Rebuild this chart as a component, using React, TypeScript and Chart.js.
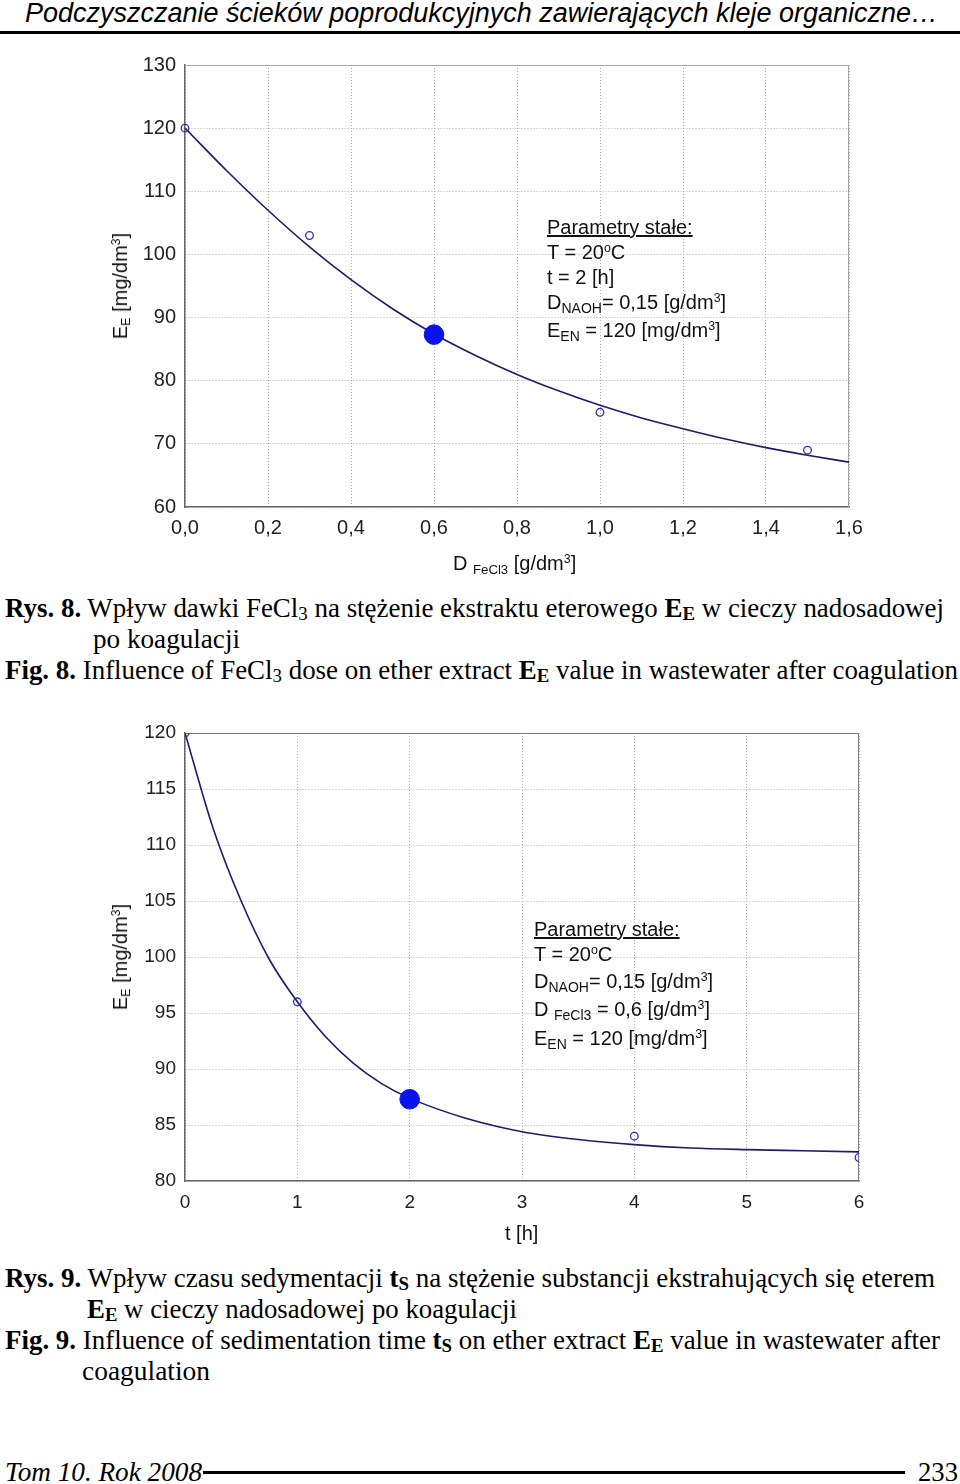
import React, { useEffect, useLayoutEffect, useRef } from "react";
import { Chart, registerables } from "chart.js";

Chart.register(...registerables);

// ---------- Fig. 8 data (FeCl3 dose) ----------
const fig8CurveDose = [0, 0.1, 0.2, 0.3, 0.4, 0.5, 0.6, 0.7, 0.8, 0.9, 1.0, 1.1, 1.2, 1.3, 1.4, 1.5, 1.6];
const fig8CurveEE = [120, 113.3, 107, 101.2, 96, 91.4, 87.4, 84, 81, 78.4, 76.1, 74.1, 72.4, 70.8, 69.4, 68.2, 67.1];
const fig8MeasDose = [0, 0.3, 1.0, 1.5];
const fig8MeasEE = [120, 103, 75, 69];
const fig8ChosenDose = [0.6];
const fig8ChosenEE = [87.3];
const fig8XTicks = [0, 0.2, 0.4, 0.6, 0.8, 1.0, 1.2, 1.4, 1.6];
const fig8XTickLabels = ["0,0", "0,2", "0,4", "0,6", "0,8", "1,0", "1,2", "1,4", "1,6"];
const fig8YTicks = [60, 70, 80, 90, 100, 110, 120, 130];

// ---------- Fig. 9 data (sedimentation time) ----------
const fig9CurveTime = [0, 0.25, 0.5, 0.75, 1, 1.25, 1.5, 1.75, 2, 2.5, 3, 3.5, 4, 4.5, 5, 5.5, 6];
const fig9CurveEE = [120, 111.5, 105, 99.8, 96, 92.9, 90.5, 88.7, 87.4, 85.6, 84.4, 83.7, 83.25, 82.95, 82.8, 82.7, 82.6];
const fig9MeasTime = [0, 1, 4, 6];
const fig9MeasEE = [120, 96, 84, 82.1];
const fig9ChosenTime = [2];
const fig9ChosenEE = [87.3];
const fig9XTicks = [0, 1, 2, 3, 4, 5, 6];
const fig9XTickLabels = ["0", "1", "2", "3", "4", "5", "6"];
const fig9YTicks = [80, 85, 90, 95, 100, 105, 110, 115, 120];

const SANS = "'Liberation Sans', Arial, Helvetica, sans-serif";
const SERIF = "'Liberation Serif', 'Times New Roman', serif";

const framePlugin = {
  id: "frame",
  beforeDatasetsDraw(chart: any, _args: any, opts: any) {
    const { ctx, chartArea: a } = chart;
    ctx.save();
    ctx.strokeStyle = opts.color || "#999";
    ctx.lineWidth = 1;
    const top = Math.round(a.top) + 0.5;
    const right = Math.round(a.right) - 0.5;
    ctx.beginPath();
    ctx.moveTo(a.left, top);
    ctx.lineTo(right, top);
    ctx.lineTo(right, a.bottom);
    ctx.stroke();
    ctx.restore();
  },
};

type P = {
  curveX: number[]; curveY: number[];
  measX: number[]; measY: number[];
  chosenX: number[]; chosenY: number[];
  xTicks: number[]; xLabels: string[]; yTicks: number[];
  padTop: number; padRight: number; xAxisH: number; yAxisW: number;
  clipPoints: boolean; frameColor: string; yFont: number; xFont: number; xPad: number;
};

function pts(xs: number[], ys: number[]) {
  return xs.map((x, i) => ({ x, y: ys[i] }));
}

function buildConfig(p: P): any {
  return {
    type: "scatter",
    data: {
      datasets: [
        {
          data: pts(p.chosenX, p.chosenY),
          pointRadius: 9.8,
          pointBackgroundColor: "#0a12ee",
          pointBorderColor: "#0a12ee",
          pointBorderWidth: 1,
          showLine: false,
          clip: false,
        },
        {
          data: pts(p.measX, p.measY),
          pointRadius: 3.8,
          pointBackgroundColor: "rgba(255,255,255,0)",
          pointBorderColor: "#2f2fa8",
          pointBorderWidth: 1.3,
          showLine: false,
          clip: p.clipPoints ? undefined : false,
        },
        {
          data: pts(p.curveX, p.curveY),
          showLine: true,
          pointRadius: 0,
          borderColor: "#1c1c6b",
          borderWidth: 1.6,
          cubicInterpolationMode: "monotone",
          fill: false,
        },
      ],
    },
    options: {
      responsive: false,
      animation: false,
      events: [],
      layout: { padding: { top: p.padTop, right: p.padRight, left: 0, bottom: 0 } },
      plugins: {
        legend: { display: false },
        tooltip: { enabled: false },
        frame: { color: p.frameColor },
      },
      scales: {
        x: {
          type: "linear",
          min: p.xTicks[0],
          max: p.xTicks[p.xTicks.length - 1],
          afterBuildTicks: (s: any) => { s.ticks = p.xTicks.map((v) => ({ value: v })); },
          afterFit: (s: any) => { s.height = p.xAxisH; },
          grid: { color: "#b0b0b0", lineWidth: 1, drawTicks: false },
          border: { display: true, color: "#666", width: 1.5, dash: [1, 2] },
          ticks: {
            padding: p.xPad,
            color: "#222",
            font: { family: SANS, size: p.xFont },
            maxRotation: 0,
            autoSkip: false,
            callback: (_v: any, i: number) => p.xLabels[i],
          },
        },
        y: {
          type: "linear",
          min: p.yTicks[0],
          max: p.yTicks[p.yTicks.length - 1],
          afterBuildTicks: (s: any) => { s.ticks = p.yTicks.map((v) => ({ value: v })); },
          afterFit: (s: any) => { s.width = p.yAxisW; },
          grid: { color: "#b0b0b0", lineWidth: 1, drawTicks: false },
          border: { display: true, color: "#666", width: 1.5, dash: [1, 2] },
          ticks: {
            padding: 9,
            color: "#222",
            font: { family: SANS, size: p.yFont },
            autoSkip: false,
            callback: (v: any) => String(v),
          },
        },
      },
    },
    plugins: [framePlugin],
  };
}

function ChartCanvas({ left, top, width, height, params }: { left: number; top: number; width: number; height: number; params: P }) {
  const ref = useRef<HTMLCanvasElement>(null);
  useEffect(() => {
    const chart = new Chart(ref.current as HTMLCanvasElement, buildConfig(params));
    return () => chart.destroy();
  }, []);
  return (
    <canvas
      ref={ref}
      width={width}
      height={height}
      style={{ position: "absolute", left, top, width, height, display: "block" }}
    />
  );
}

const Sub = ({ children, size = "0.62em", drop = "0.28em" }: any) => (
  <span style={{ fontSize: size, position: "relative", top: drop, lineHeight: 0 }}>{children}</span>
);
const Sup = ({ children }: any) => (
  <span style={{ fontSize: "0.62em", position: "relative", top: "-0.55em", lineHeight: 0 }}>{children}</span>
);

function Line({ x, base, w, size, family, italic, children, color = "#000" }: any) {
  const ref = useRef<HTMLDivElement>(null);
  useLayoutEffect(() => {
    const el = ref.current;
    if (!el || !w) return;
    el.style.transform = "none";
    const nat = el.getBoundingClientRect().width;
    if (nat > 0) el.style.transform = `scaleX(${w / nat})`;
  }, [w]);
  const asc = family === SERIF ? 0.8375 : 0.8465;
  return (
    <div
      ref={ref}
      style={{
        position: "absolute",
        left: x,
        top: base - asc * size,
        fontSize: size,
        lineHeight: 1,
        fontFamily: family,
        fontStyle: italic ? "italic" : "normal",
        whiteSpace: "nowrap",
        transformOrigin: "0 0",
        color,
      }}
    >
      {children}
    </div>
  );
}

function YTitle({ cx, cy }: { cx: number; cy: number }) {
  return (
    <div
      style={{
        position: "absolute",
        left: cx,
        top: cy,
        transform: "translate(-50%,-50%) rotate(-90deg)",
        fontFamily: SANS,
        fontSize: 20,
        lineHeight: 1,
        whiteSpace: "nowrap",
        color: "#111",
      }}
    >
      E<Sub>E</Sub> [mg/dm<Sup>3</Sup>]
    </div>
  );
}

const fig8Params: P = {
  curveX: fig8CurveDose, curveY: fig8CurveEE,
  measX: fig8MeasDose, measY: fig8MeasEE,
  chosenX: fig8ChosenDose, chosenY: fig8ChosenEE,
  xTicks: fig8XTicks, xLabels: fig8XTickLabels, yTicks: fig8YTicks,
  padTop: 25, padRight: 36, xAxisH: 78, yAxisW: 90,
  clipPoints: false, frameColor: "#a8a8a8", yFont: 20, xFont: 20, xPad: 9,
};

const fig9Params: P = {
  curveX: fig9CurveTime, curveY: fig9CurveEE,
  measX: fig9MeasTime, measY: fig9MeasEE,
  chosenX: fig9ChosenTime, chosenY: fig9ChosenEE,
  xTicks: fig9XTicks, xLabels: fig9XTickLabels, yTicks: fig9YTicks,
  padTop: 28, padRight: 36, xAxisH: 64, yAxisW: 90,
  clipPoints: true, frameColor: "#808080", yFont: 19, xFont: 19, xPad: 10,
};

const CAP = 28;

export default function App() {
  const ann = { family: SANS, size: 20, color: "#111" };
  return (
    <div style={{ position: "absolute", left: 0, top: 0, width: 960, height: 1484, background: "#fff", overflow: "hidden" }}>
      {/* header */}
      <Line x={25} base={23} w={913} size={27} family={SANS} italic>
        Podczyszczanie ścieków poprodukcyjnych zawierających kleje organiczne…
      </Line>
      <div style={{ position: "absolute", left: 0, top: 31, width: 960, height: 3, background: "#000" }} />

      {/* Fig. 8 chart */}
      <ChartCanvas left={95} top={40} width={790} height={545} params={fig8Params} />
      <YTitle cx={120} cy={286} />
      <Line x={453} base={570} size={20} family={SANS} color="#111">
        D <Sub size="0.66em" drop="0.3em">FeCl3</Sub> [g/dm<Sup>3</Sup>]
      </Line>
      <Line x={547} base={234} {...ann}>
        <span style={{ textDecoration: "underline" }}>Parametry stałe:</span>
      </Line>
      <Line x={547} base={259} {...ann}>T = 20<Sup>o</Sup>C</Line>
      <Line x={547} base={284} {...ann}>t = 2 [h]</Line>
      <Line x={547} base={309} {...ann}>D<Sub size="0.7em">NAOH</Sub>= 0,15 [g/dm<Sup>3</Sup>]</Line>
      <Line x={547} base={337} {...ann}>E<Sub size="0.7em">EN</Sub> = 120 [mg/dm<Sup>3</Sup>]</Line>

      {/* Fig. 8 caption */}
      <Line x={5} base={617} w={939} size={CAP} family={SERIF}>
        <b>Rys. 8.</b> Wpływ dawki FeCl<Sub size="0.7em" drop="0.2em">3</Sub> na stężenie ekstraktu eterowego <b>E<Sub size="0.7em" drop="0.2em">E</Sub></b> w cieczy nadosadowej
      </Line>
      <Line x={93} base={648} w={147} size={CAP} family={SERIF}>po koagulacji</Line>
      <Line x={5} base={679} w={953} size={CAP} family={SERIF}>
        <b>Fig. 8.</b> Influence of FeCl<Sub size="0.7em" drop="0.2em">3</Sub> dose on ether extract <b>E<Sub size="0.7em" drop="0.2em">E</Sub></b> value in wastewater after coagulation
      </Line>

      {/* Fig. 9 chart */}
      <ChartCanvas left={95} top={705} width={800} height={540} params={fig9Params} />
      <YTitle cx={120} cy={957} />
      <Line x={505} base={1240} size={20} family={SANS} color="#111">t [h]</Line>
      <Line x={534} base={936} {...ann}>
        <span style={{ textDecoration: "underline" }}>Parametry stałe:</span>
      </Line>
      <Line x={534} base={961} {...ann}>T = 20<Sup>o</Sup>C</Line>
      <Line x={534} base={988} {...ann}>D<Sub size="0.7em">NAOH</Sub>= 0,15 [g/dm<Sup>3</Sup>]</Line>
      <Line x={534} base={1016} {...ann}>D <Sub size="0.7em">FeCl3</Sub> = 0,6 [g/dm<Sup>3</Sup>]</Line>
      <Line x={534} base={1045} {...ann}>E<Sub size="0.7em">EN</Sub> = 120 [mg/dm<Sup>3</Sup>]</Line>

      {/* Fig. 9 caption */}
      <Line x={5} base={1287} w={930} size={CAP} family={SERIF}>
        <b>Rys. 9.</b> Wpływ czasu sedymentacji <b>t<Sub size="0.7em" drop="0.2em">S</Sub></b> na stężenie substancji ekstrahujących się eterem
      </Line>
      <Line x={87} base={1318} w={430} size={CAP} family={SERIF}>
        <b>E<Sub size="0.7em" drop="0.2em">E</Sub></b> w cieczy nadosadowej po koagulacji
      </Line>
      <Line x={5} base={1349} w={935} size={CAP} family={SERIF}>
        <b>Fig. 9.</b> Influence of sedimentation time <b>t<Sub size="0.7em" drop="0.2em">S</Sub></b> on ether extract <b>E<Sub size="0.7em" drop="0.2em">E</Sub></b> value in wastewater after
      </Line>
      <Line x={82} base={1380} w={128} size={CAP} family={SERIF}>coagulation</Line>

      {/* footer */}
      <Line x={5} base={1481} w={197} size={CAP} family={SERIF} italic>Tom 10. Rok 2008</Line>
      <div style={{ position: "absolute", left: 203, top: 1471, width: 702, height: 3, background: "#000" }} />
      <Line x={918} base={1481} w={40} size={CAP} family={SERIF}>233</Line>
    </div>
  );
}
